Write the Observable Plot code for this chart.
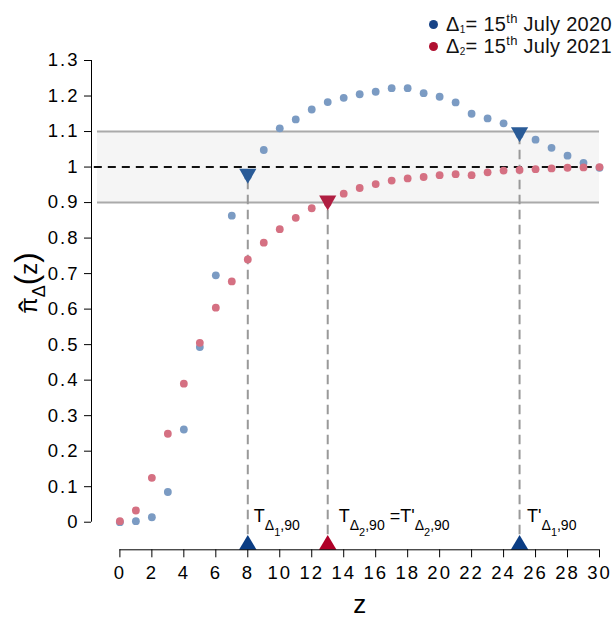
<!DOCTYPE html>
<html><head><meta charset="utf-8">
<script src="https://cdn.jsdelivr.net/npm/d3@7"></script>
<script src="https://cdn.jsdelivr.net/npm/@observablehq/plot@0.6"></script>
<style>
html,body{margin:0;padding:0;background:#fff;}
#wrap{position:relative;width:613px;height:619px;font-family:"Liberation Sans",Arial,Helvetica,sans-serif;}
#wrap svg{position:absolute;left:0;top:0;}
.legend{position:absolute;left:429px;height:20px;display:flex;align-items:center;font-size:20px;letter-spacing:0.3px;white-space:nowrap;color:#111;}
.legend .sw{display:inline-block;width:9px;height:9px;border-radius:50%;margin-right:8px;}
.legend sub{font-size:10px;position:relative;top:2px;vertical-align:baseline;}
.legend sup{font-size:13px;position:relative;top:-8px;vertical-align:baseline;}
</style></head>
<body><div id="wrap"></div>
<script>
// ---- data ----
const zValues = [0,1,2,3,4,5,6,7,8,9,10,11,12,13,14,15,16,17,18,19,20,21,22,23,24,25,26,27,28,29,30];
const blueVals = [0,0.003,0.014,0.085,0.261,0.493,0.695,0.863,0.974,1.048,1.109,1.134,1.162,1.183,1.195,1.205,1.212,1.222,1.222,1.208,1.198,1.182,1.150,1.137,1.123,1.091,1.077,1.054,1.032,1.012,0.998];
const redVals  = [0.003,0.033,0.125,0.249,0.390,0.505,0.604,0.678,0.740,0.787,0.825,0.857,0.884,0.899,0.925,0.941,0.952,0.962,0.968,0.972,0.977,0.980,0.977,0.985,0.990,0.992,0.994,0.996,0.998,0.999,1.000];
const markerZ = [8, 13, 25];
const markerVal = [0.974, 0.899, 1.091];
const markerSeries = ["D1", "D2", "D1"];
const markerLabels = ["T_{Δ_{1},90}", "T_{Δ_{2},90} =T'_{Δ_{2},90}", "T'_{Δ_{1},90}"];
const bandLow = 0.9, bandHigh = 1.1, target = 1;
const xTicks = [0,2,4,6,8,10,12,14,16,18,20,22,24,26,28,30];
const yTicks = [0,0.1,0.2,0.3,0.4,0.5,0.6,0.7,0.8,0.9,1,1.1,1.2,1.3];
const legendLabels = ["Δ<sub>1</sub>= 15<sup>th</sup> July 2020", "Δ<sub>2</sub>= 15<sup>th</sup> July 2021"];
const legendColors = ["#184487", "#b01030"];

// ---- layout constants ----
const xMin = -1.776, yMin = -0.0777;
const pointColor = {D1: "#7b9bc3", D2: "#d57082"};
const topTriColor = {D1: "#2a5b97", D2: "#b01f42"};
const botTriColor = {D1: "#0b3d84", D2: "#b00028"};

const blue = zValues.map((z, i) => ({z, v: blueVals[i]}));
const red = zValues.map((z, i) => ({z, v: redVals[i]}));
const markers = markerZ.map((z, i) => ({z, v: markerVal[i], s: markerSeries[i], label: markerLabels[i]}));

const triDown = {draw(ctx) { const w = 8.6, h = 15; ctx.moveTo(-w, -h/2); ctx.lineTo(w, -h/2); ctx.lineTo(0, h/2); ctx.closePath(); }};
const triUp = {draw(ctx) { const w = 8.8, h = 14.7; ctx.moveTo(-w, h/2); ctx.lineTo(w, h/2); ctx.lineTo(0, -h/2); ctx.closePath(); }};

const plot = Plot.plot({
  width: 613, height: 619,
  marginTop: 60, marginBottom: 69.7, marginLeft: 91, marginRight: 14,
  style: {fontFamily: '"Liberation Sans", Arial, Helvetica, sans-serif', fontSize: "18.5px", background: "white", color: "black", overflow: "visible"},
  x: {domain: [xMin, 30], ticks: xTicks, tickSize: 8, tickPadding: 8, label: null, tickFormat: d => String(d)},
  y: {domain: [yMin, 1.3], ticks: yTicks, tickSize: 7, tickPadding: 5, label: null, tickFormat: d => String(d)},
  marks: [
    Plot.rect([{lo: bandLow, hi: bandHigh}], {x1: -1.4, x2: 30, y1: "lo", y2: "hi", fill: "#f5f5f5"}),
    Plot.ruleY([bandLow, bandHigh], {x1: -1.4, x2: 30, stroke: "#aaaaaa", strokeWidth: 2}),
    Plot.ruleY([target], {x1: -1.6, x2: 30, stroke: "#111", strokeWidth: 2, strokeDasharray: "8,6"}),
    Plot.ruleX(markers, {x: "z", y1: -0.035, y2: "v", stroke: "#999", strokeWidth: 2, strokeDasharray: "9.5,5.5"}),
    Plot.dot(blue, {x: "z", y: "v", r: 3.9, fill: pointColor.D1, stroke: "none"}),
    Plot.dot(red, {x: "z", y: "v", r: 3.9, fill: pointColor.D2, stroke: "none"}),
    Plot.dot(markers, {x: "z", y: "v", symbol: triDown, r: 5, fill: d => topTriColor[d.s], stroke: "none"}),
    Plot.dot(markers, {x: "z", y: yMin, dy: -7.35, symbol: triUp, r: 5, fill: d => botTriColor[d.s], stroke: "none"}),
    Plot.ruleX([xMin], {y1: 0, y2: 1.3, stroke: "black", strokeWidth: 1}),
    Plot.ruleY([yMin], {x1: 0, x2: 30, stroke: "black", strokeWidth: 1}),
    Plot.text(markers, {x: "z", y: 0, text: "label", textAnchor: "start", lineAnchor: "bottom", fontSize: 18, fill: "black"}),
    Plot.text([15], {x: d => d, frameAnchor: "bottom", text: () => "z", dy: 63, fontSize: 26, fill: "black"}),
    Plot.text([0], {frameAnchor: "left", text: () => "π\u0302Δ(z)", rotate: -90, dx: -55, dy: -22, lineAnchor: "bottom", textAnchor: "middle", fontSize: 24, fill: "black"})
  ]
});

document.getElementById("wrap").appendChild(plot);

// widen tick labels slightly (reference uses loosely spaced digits)
d3.select(plot).selectAll("g[aria-label='x-axis tick label'] text, g[aria-label='y-axis tick label'] text").style("letter-spacing", "2px");

// rich text post-processing (sub/superscripts as tspans)
function parseRich(s, size, off, runs) {
  let buf = "", i = 0;
  const flush = () => { if (buf) { runs.push({t: buf, size, off}); buf = ""; } };
  while (i < s.length) {
    const c = s[i];
    if ((c === "_" || c === "^") && s[i+1] === "{") {
      flush();
      let depth = 1, j = i + 2;
      while (j < s.length && depth > 0) { if (s[j] === "{") depth++; else if (s[j] === "}") depth--; j++; }
      const inner = s.slice(i + 2, j - 1);
      parseRich(inner, size * 0.78, off + (c === "_" ? size * 0.42 : -size * 0.42), runs);
      i = j;
    } else { buf += c; i++; }
  }
  flush();
  return runs;
}
const dxOffsets = [6, 11, 7.5];
const svg = d3.select(plot);
svg.selectAll("text").each(function() {
  const el = d3.select(this);
  const s = this.textContent;
  const mi = markerLabels.indexOf(s);
  if (mi >= 0) {
    const runs = parseRich(s, 18, 0, []);
    el.text("");
    el.attr("dx", dxOffsets[mi]).attr("dy", -3.5);
    let cur = 0;
    for (const r of runs) {
      el.append("tspan").attr("font-size", r.size).attr("dy", r.off - cur).text(r.t);
      cur = r.off;
    }
  } else if (s === "π\u0302Δ(z)") {
    el.text("");
    const pi = el.append("tspan").attr("font-size", 24).text("π");
    const hat = el.append("tspan").attr("font-size", 34).attr("dy", 6).text("\u02C6");
    const pw = pi.node().getComputedTextLength();
    const hw = hat.node().getComputedTextLength();
    hat.attr("dx", -(pw + hw) / 2 - 0.5);
    el.append("tspan").attr("font-size", 18).attr("dx", (pw - hw) / 2 + 0.5).attr("dy", 2).text("Δ");
    el.append("tspan").attr("font-size", 31).attr("dy", -8).text("(");
    el.append("tspan").attr("font-size", 24).text("z");
    el.append("tspan").attr("font-size", 31).text(")");
  }
});

// legend
const wrap = document.getElementById("wrap");
legendLabels.forEach((lab, i) => {
  const row = document.createElement("div");
  row.className = "legend";
  row.style.top = (14 + i * 22.7) + "px";
  row.innerHTML = `<span class="sw" style="background:${legendColors[i]}"></span><span>${lab}</span>`;
  wrap.appendChild(row);
});
</script>
</body></html>
